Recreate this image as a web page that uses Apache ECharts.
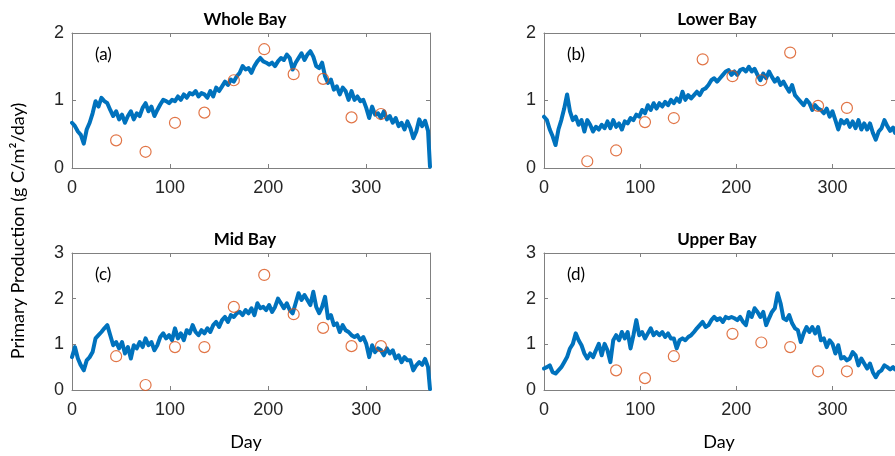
<!DOCTYPE html>
<html>
<head>
<meta charset="utf-8">
<script src="https://cdn.jsdelivr.net/npm/echarts@6/dist/echarts.min.js"></script>
<style>
html,body{margin:0;padding:0;background:#fff;}
#chart{width:895px;height:456px;}
</style>
</head>
<body>
<div id="chart"></div>
<script>
// ---- data ----
var days = [0,3,6,9,12,15,18,21,24,27,30,33,36,39,42,45,48,51,54,57,60,63,66,69,72,75,78,81,84,87,
 90,93,96,99,102,105,108,111,114,117,120,123,126,129,132,135,138,141,144,147,150,153,156,159,162,165,168,171,174,177,
 180,183,186,189,192,195,198,201,204,207,210,213,216,219,222,225,228,231,234,237,240,243,246,249,252,255,258,261,264,267,
 270,273,276,279,282,285,288,291,294,297,300,303,306,309,312,315,318,321,324,327,330,333,336,339,342,345,348,351,354,
 357,360,363,365];

var wholeBay = [0.67,0.62,0.54,0.49,0.36,0.57,0.67,0.81,0.99,0.91,
 1.04,0.99,0.96,0.86,0.77,0.84,0.72,0.79,0.67,0.77,
 0.84,0.72,0.81,0.77,0.89,0.96,0.84,0.91,0.77,0.86,
 0.94,1.01,0.99,0.96,1.01,0.99,1.06,1.01,1.09,1.04,
 1.11,1.09,1.14,1.06,1.11,1.09,1.04,1.14,1.06,1.19,
 1.14,1.21,1.28,1.23,1.31,1.28,1.36,1.41,1.51,1.46,
 1.48,1.41,1.51,1.58,1.63,1.58,1.56,1.53,1.56,1.51,
 1.58,1.63,1.60,1.68,1.63,1.46,1.56,1.63,1.70,1.60,
 1.68,1.73,1.65,1.51,1.48,1.56,1.36,1.26,1.31,1.16,
 1.21,1.09,1.19,1.14,1.01,1.14,1.01,1.06,0.99,1.01,
 0.89,0.74,0.91,0.79,0.81,0.74,0.84,0.72,0.77,0.67,
 0.74,0.62,0.67,0.57,0.69,0.59,0.44,0.54,0.72,
 0.62,0.70,0.55,0.02];

var lowerBay = [0.76,0.71,0.57,0.47,0.34,0.57,0.71,0.88,1.09,0.84,
 0.71,0.76,0.64,0.71,0.54,0.71,0.64,0.54,0.61,0.57,
 0.64,0.59,0.69,0.59,0.71,0.61,0.66,0.57,0.69,0.66,
 0.74,0.71,0.79,0.76,0.86,0.81,0.93,0.86,0.96,0.88,
 0.96,0.91,0.98,0.93,1.01,0.96,1.03,0.98,1.13,1.01,
 1.08,1.03,1.08,1.13,1.08,1.16,1.18,1.23,1.30,1.33,
 1.28,1.33,1.38,1.43,1.45,1.38,1.43,1.38,1.45,1.47,
 1.43,1.50,1.43,1.47,1.38,1.30,1.40,1.33,1.43,1.35,
 1.28,1.33,1.23,1.28,1.20,1.13,1.23,1.08,1.03,0.98,
 0.93,1.01,0.96,0.86,0.93,0.88,0.86,0.81,0.88,0.76,
 0.84,0.71,0.57,0.71,0.66,0.71,0.61,0.69,0.59,0.71,
 0.57,0.66,0.57,0.66,0.52,0.42,0.54,0.59,0.71,
 0.62,0.55,0.60,0.52];

var midBay = [0.72,0.94,0.69,0.54,0.43,0.65,0.72,0.83,1.13,1.20,
 1.27,1.35,1.42,1.20,0.98,1.05,0.91,1.05,0.80,0.94,
 0.69,0.98,0.91,1.05,0.94,1.13,0.98,1.05,0.87,0.98,
 1.16,1.24,1.13,1.20,1.09,1.35,1.13,1.24,1.09,1.31,
 1.24,1.42,1.27,1.20,1.31,1.24,1.35,1.27,1.42,1.49,
 1.38,1.53,1.60,1.49,1.64,1.60,1.68,1.71,1.64,1.75,
 1.68,1.79,1.64,1.90,1.79,1.82,1.75,1.86,1.71,1.82,
 2.00,1.90,1.79,1.90,1.75,1.68,1.90,2.12,1.97,2.08,
 1.97,1.86,2.15,1.82,1.68,1.82,2.04,1.57,1.64,1.42,
 1.46,1.27,1.42,1.31,1.27,1.20,1.16,1.20,1.09,1.16,
 1.01,0.72,0.98,0.83,0.91,0.87,0.76,0.91,0.80,0.87,
 0.69,0.76,0.61,0.72,0.65,0.65,0.43,0.54,0.61,
 0.55,0.68,0.50,0.02];

var upperBay = [0.47,0.50,0.54,0.39,0.36,0.43,0.50,0.61,0.72,0.91,
 1.01,1.24,1.09,0.98,0.80,0.69,0.80,0.72,0.87,1.01,
 0.76,1.01,0.87,0.61,1.09,1.20,1.09,1.27,1.13,1.27,
 0.91,1.20,1.53,1.20,1.27,1.13,1.24,1.35,1.20,1.27,
 1.20,1.27,1.16,1.24,1.13,1.13,0.91,1.09,1.13,1.09,
 1.16,1.20,1.27,1.35,1.42,1.49,1.38,1.42,1.53,1.60,
 1.53,1.57,1.49,1.60,1.57,1.60,1.57,1.53,1.60,1.49,
 1.42,1.71,1.60,1.79,1.71,1.60,1.71,1.42,1.57,1.71,
 1.79,2.12,1.90,1.57,1.53,1.64,1.46,1.35,1.31,1.05,
 1.24,1.38,1.27,1.38,1.24,1.38,1.09,1.13,0.94,1.09,
 1.01,0.80,0.98,0.69,0.72,0.65,0.69,0.83,0.76,0.54,
 0.69,0.58,0.47,0.58,0.39,0.28,0.39,0.43,0.54,
 0.50,0.45,0.50,0.45];

var obsDays  = [45,75,105,135,165,196,226,256,285,315];
var wholeObs = [0.41,0.24,0.67,0.82,1.30,1.76,1.39,1.32,0.75,0.80];
var lowerObs = [0.10,0.26,0.68,0.74,1.61,1.36,1.30,1.71,0.92,0.89];
var midObs   = [0.74,0.11,0.94,0.94,1.82,2.52,1.66,1.36,0.96,0.96];
var upperObs = [null,0.43,0.26,0.74,null,1.23,1.04,0.94,0.41,0.41];

var panelTitles = ['Whole Bay','Lower Bay','Mid Bay','Upper Bay'];
var panelLetters = ['(a)','(b)','(c)','(d)'];
var yMaxes = [2,2,3,3];
var xTicks = [0,100,200,300];

// ---- layout ----
var grids = [
  {left:72, top:33, width:358, height:135},
  {left:544, top:33, width:358, height:135},
  {left:72, top:253, width:358, height:137},
  {left:544, top:253, width:358, height:137}
];
var lines = [wholeBay, lowerBay, midBay, upperBay];
var obs = [wholeObs, lowerObs, midObs, upperObs];

var axisColor = '#808080';
var textColor = '#262626';
var tickFont = 'Liberation Sans, Arial, sans-serif';
var labFont = 'Lato, "Open Sans", sans-serif';

var xAxes = [], yAxes = [], series = [], titles = [], graphics = [];
grids.forEach(function(g, i){
  xAxes.push({type:'value', gridIndex:i, min:0, max:365, interval:100, position:'bottom',
    axisLine:{show:true, onZero:false, lineStyle:{color:axisColor, width:1}},
    axisTick:{show:true, inside:true, length:4, lineStyle:{color:axisColor}},
    axisLabel:{show:true, color:textColor, fontFamily:tickFont, fontSize:18, margin:11,
      formatter:function(v){ return xTicks.indexOf(v) >= 0 ? String(v) : ''; }, showMaxLabel:false},
    splitLine:{show:false}});
  xAxes.push({type:'value', gridIndex:i, min:0, max:365, interval:100, position:'top',
    axisLine:{show:true, onZero:false, lineStyle:{color:axisColor, width:1}},
    axisTick:{show:true, inside:true, length:4, lineStyle:{color:axisColor}},
    axisLabel:{show:false}, splitLine:{show:false}});
  yAxes.push({type:'value', gridIndex:i, min:0, max:yMaxes[i], interval:1, position:'left',
    axisLine:{show:true, onZero:false, lineStyle:{color:axisColor, width:1}},
    axisTick:{show:true, inside:true, length:4, lineStyle:{color:axisColor}},
    axisLabel:{show:true, color:textColor, fontFamily:tickFont, fontSize:18, margin:8},
    splitLine:{show:false}});
  yAxes.push({type:'value', gridIndex:i, min:0, max:yMaxes[i], interval:1, position:'right',
    axisLine:{show:true, onZero:false, lineStyle:{color:axisColor, width:1}},
    axisTick:{show:true, inside:true, length:4, lineStyle:{color:axisColor}},
    axisLabel:{show:false}, splitLine:{show:false}});

  var lineData = days.map(function(d, k){ return [d, lines[i][k]]; });
  series.push({type:'line', xAxisIndex:2*i, yAxisIndex:2*i, data:lineData, showSymbol:false,
    lineStyle:{color:'#0072BD', width:4, join:'round', cap:'round'}, itemStyle:{color:'#0072BD'}, z:2, animation:false});
  var obsData = [];
  obsDays.forEach(function(d, k){ if (obs[i][k] !== null) obsData.push([d, obs[i][k]]); });
  series.push({type:'scatter', xAxisIndex:2*i, yAxisIndex:2*i, data:obsData, symbol:'circle',
    symbolSize:11, itemStyle:{color:'rgba(0,0,0,0)', borderColor:'#D95319', borderWidth:1.2},
    z:3, animation:false});

  titles.push({text:panelTitles[i], left:g.left + 168, top:g.top - 27, textAlign:'center',
    textStyle:{fontFamily:labFont, fontWeight:'bold', fontSize:17, color:'#000'}});
  graphics.push({type:'text', x:g.left + 23, y:g.top + 22, style:{text:panelLetters[i],
    fontFamily:labFont, fontSize:17, fill:'#000', textVerticalAlign:'middle'}});
});

graphics.push({type:'text', x:18, y:231, rotation:Math.PI/2, style:{text:'Primary Production (g C/m\u00b2/day)',
  fontFamily:labFont, fontSize:18, fill:'#000', textAlign:'center', textVerticalAlign:'middle'}});
graphics.push({type:'text', x:246, y:442, style:{text:'Day', fontFamily:labFont, fontSize:18, fill:'#000',
  textAlign:'center', textVerticalAlign:'middle'}});
graphics.push({type:'text', x:719, y:442, style:{text:'Day', fontFamily:labFont, fontSize:18, fill:'#000',
  textAlign:'center', textVerticalAlign:'middle'}});

var chart = echarts.init(document.getElementById('chart'), null, {renderer:'canvas'});
chart.setOption({
  animation:false,
  backgroundColor:'#fff',
  title: titles,
  grid: grids,
  xAxis: xAxes,
  yAxis: yAxes,
  series: series,
  graphic: graphics
});
</script>
</body>
</html>
